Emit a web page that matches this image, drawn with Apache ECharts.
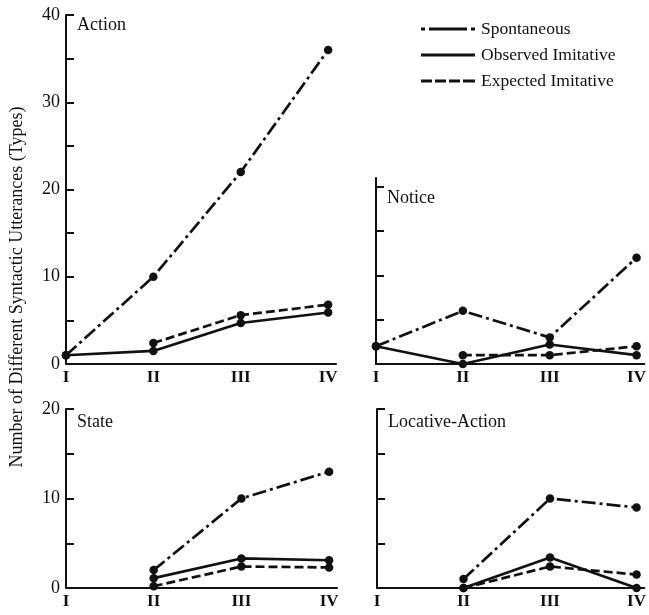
<!DOCTYPE html>
<html>
<head>
<meta charset="utf-8">
<script src="https://cdn.jsdelivr.net/npm/echarts@6/dist/echarts.min.js"></script>
<style>
html,body{margin:0;padding:0;background:#fff}
#main{width:649px;height:615px}
</style>
</head>
<body>
<div id="main"></div>
<script>
// stages on the x axis
var stages = ['I', 'II', 'III', 'IV'];
var seriesNames = ['Spontaneous', 'Observed Imitative', 'Expected Imitative'];
var panelNames = ['Action', 'Notice', 'State', 'Locative-Action'];

// values per panel (null = no point)
var actionSpont = [1, 10, 22, 36];
var actionObs = [1, 1.5, 4.7, 5.9];
var actionExp = [null, 2.4, 5.6, 6.8];

var noticeSpont = [2, 6, 3, 12];
var noticeObs = [2, 0, 2.2, 1];
var noticeExp = [null, 1, 1, 2];

var stateSpont = [null, 2, 10, 13];
var stateObs = [null, 1.1, 3.3, 3.1];
var stateExp = [null, 0.2, 2.4, 2.3];

var locSpont = [null, 1, 10, 9];
var locObs = [null, 0, 3.4, 0];
var locExp = [null, 0, 2.4, 1.5];

// tick values
var bigTicks = [0, 5, 10, 15, 20, 25, 30, 35, 40];
var smallTicks = [0, 5, 10, 15, 20];
var bigLabels = [0, 10, 20, 30, 40];
var smallLabels = [0, 10, 20];
var stageTicks = [0, 1, 2, 3];

var font = 'Liberation Serif';
var ink = '#111';

var chart = echarts.init(document.getElementById('main'));

function pts(arr) {
    var out = [];
    arr.forEach(function (v, i) {
        if (v != null) out.push([i, v]);
    });
    return out;
}

var lineTypes = [[14, 4, 3, 4], 'solid', [9, 4]];

var grids = [
    {left: 66, top: 15, width: 270, height: 349},
    {left: 376, top: 178, width: 277, height: 186},
    {left: 66, top: 409, width: 271, height: 179},
    {left: 377, top: 409, width: 278, height: 179}
];
var yMax = [40, 21, 20, 20];
var yTicks = [bigTicks, smallTicks, smallTicks, smallTicks];
var yLabels = [bigLabels, null, smallLabels, null];
var panelData = [
    [actionSpont, actionObs, actionExp],
    [noticeSpont, noticeObs, noticeExp],
    [stateSpont, stateObs, stateExp],
    [locSpont, locObs, locExp]
];

var xAxes = [], yAxes = [], series = [];
grids.forEach(function (g, k) {
    xAxes.push({
        gridIndex: k,
        type: 'value',
        min: 0,
        max: 3.09,
        interval: 1,
        splitLine: {show: false},
        axisLine: {lineStyle: {color: ink, width: 2}},
        axisTick: {show: false},
        axisLabel: {
            customValues: stageTicks,
            formatter: function (v) { return stages[v] || ''; },
            color: ink,
            fontFamily: font,
            fontSize: 17,
            fontWeight: 'bold',
            margin: 5
        }
    });
    yAxes.push({
        gridIndex: k,
        type: 'value',
        min: 0,
        max: yMax[k],
        interval: 5,
        splitLine: {show: false},
        axisLine: {show: true, lineStyle: {color: ink, width: 2}},
        axisTick: {
            show: true,
            inside: true,
            length: 8,
            customValues: yTicks[k],
            lineStyle: {color: ink, width: 2}
        },
        axisLabel: yLabels[k] ? {
            customValues: yLabels[k],
            color: ink,
            fontFamily: font,
            fontSize: 18,
            margin: 6
        } : {show: false}
    });
    panelData[k].forEach(function (arr, s) {
        series.push({
            name: seriesNames[s],
            type: 'line',
            xAxisIndex: k,
            yAxisIndex: k,
            data: pts(arr),
            symbol: 'circle',
            symbolSize: 8.5,
            color: ink,
            itemStyle: {color: ink},
            lineStyle: {color: ink, width: 2.7, type: lineTypes[s]},
            silent: true,
            z: 3 - s
        });
    });
});

var titlePos = [[77, 16], [387, 189], [77, 413], [388, 413]];

chart.setOption({
    animation: false,
    backgroundColor: '#fff',
    title: panelNames.map(function (n, k) {
        return {
            text: n,
            left: titlePos[k][0],
            top: titlePos[k][1],
            padding: 0,
            textStyle: {fontFamily: font, fontSize: 18, fontWeight: 'normal', color: ink}
        };
    }),
    legend: {
        orient: 'vertical',
        left: 416,
        top: 15,
        itemWidth: 54,
        itemHeight: 3,
        itemGap: 8,
        textStyle: {fontFamily: font, fontSize: 17.5, color: ink, padding: [0, 0, 0, 1]},
        data: [
            {name: 'Spontaneous', icon: 'path://M0,0h4v3h-4z M8,0h38v3h-38z M50,0h4v3h-4z'},
            {name: 'Observed Imitative', icon: 'path://M0,0h54v3h-54z'},
            {name: 'Expected Imitative', icon: 'path://M0,0h11v3h-11z M14,0h11v3h-11z M28,0h11v3h-11z M42,0h12v3h-12z'}
        ],
        selectedMode: false
    },
    graphic: [{
        type: 'text',
        x: 17,
        y: 287,
        rotation: Math.PI / 2,
        style: {
            text: 'Number of Different Syntactic Utterances (Types)',
            fontFamily: font,
            fontSize: 18,
            fill: ink,
            align: 'center',
            verticalAlign: 'middle'
        }
    }],
    grid: grids,
    xAxis: xAxes,
    yAxis: yAxes,
    series: series
});
</script>
</body>
</html>
